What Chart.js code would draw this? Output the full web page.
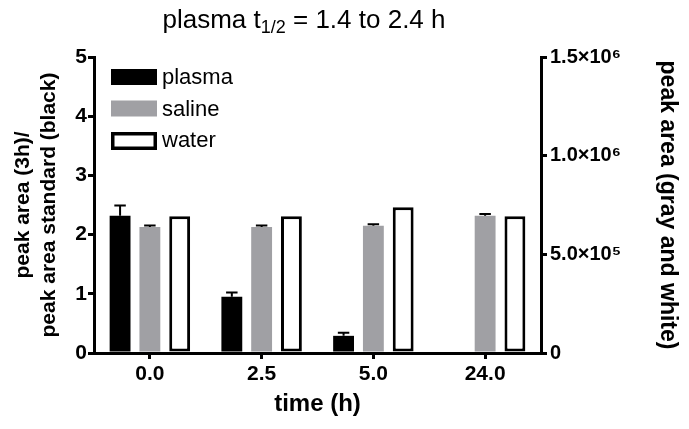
<!DOCTYPE html>
<html>
<head>
<meta charset="utf-8">
<script src="https://cdn.jsdelivr.net/npm/chart.js@4"></script>
<style>
  html, body { margin: 0; padding: 0; background: #fff; }
  #wrap { position: relative; width: 689px; height: 429px; }
  #title {
    position: absolute; left: 140px; width: 328px; top: 4px; line-height: 29px;
    text-align: center; font: 26px "Liberation Sans", Arial, sans-serif; color: #000;
  }
  #title sub { font-size: 18px; vertical-align: -5px; line-height: 0; }
</style>
</head>
<body>
<div id="wrap">
  <div id="title">plasma t<sub>1/2</sub> = 1.4 to 2.4 h</div>
  <canvas id="chart" width="689" height="429"></canvas>
</div>
<script>
// time points (h)
const categories  = ["0.0", "2.5", "5.0", "24.0"];

// plasma: ratio to standard (left axis)
const plasmaVals  = [2.32, 0.95, 0.29, null];
const plasmaErr   = [0.17, 0.07, 0.05, 0];

// saline / water: raw peak area (right axis)
const salineVals  = [639000, 639000, 645000, 696000];
const salineErr   = [7000, 7000, 7000, 9000];
const waterVals   = [693000, 693000, 738000, 693000];
const waterErr    = [0, 0, 0, 0];

const leftTicks   = [0, 1, 2, 3, 4, 5];
const rightTicks  = [0, 500000, 1000000, 1500000];

const FONT = "'Liberation Sans', Arial, sans-serif";
const GRAY = "#a0a0a4";
const SUP  = { "5": "\u2075", "6": "\u2076" };

function sciLabel(v) {
  if (v === 0) return "0";
  const exp = Math.floor(Math.log10(v));
  const mant = (v / Math.pow(10, exp)).toFixed(1);
  return mant + "\u00d710" + SUP[String(exp)];
}

// one-sided (upward) error bars, drawn through the bar elements and scales
const errorBars = {
  id: "errorBars",
  afterDatasetsDraw(chart) {
    const ctx = chart.ctx;
    chart.data.datasets.forEach((ds, di) => {
      const meta = chart.getDatasetMeta(di);
      const scale = chart.scales[ds.yAxisID];
      meta.data.forEach((bar, i) => {
        const v = ds.data[i], e = ds.err[i];
        if (v == null || !e) return;
        const yTop = scale.getPixelForValue(v + e);
        const cap = bar.width * 0.55;
        ctx.save();
        ctx.strokeStyle = "#000";
        ctx.lineWidth = 2;
        ctx.beginPath();
        ctx.moveTo(bar.x, bar.y);
        ctx.lineTo(bar.x, yTop);
        ctx.moveTo(bar.x - cap / 2, yTop);
        ctx.lineTo(bar.x + cap / 2, yTop);
        ctx.stroke();
        ctx.restore();
      });
    });
  }
};

// legend placed inside the plot, top-left
const insideLegend = {
  id: "insideLegend",
  afterDraw(chart) {
    const ctx = chart.ctx;
    const x0 = 111, y0 = 69, rowH = 31.5, bw = 46, bh = 16;
    ctx.save();
    chart.data.datasets.forEach((ds, i) => {
      const y = y0 + i * rowH;
      ctx.fillStyle = ds.backgroundColor;
      ctx.fillRect(x0, y, bw, bh);
      if (ds.borderWidth) {
        ctx.strokeStyle = "#000";
        ctx.lineWidth = 3.5;
        ctx.strokeRect(x0 + 1.75, y + 1.75, bw - 3.5, bh - 1.5);
      }
      ctx.fillStyle = "#000";
      ctx.font = "22px " + FONT;
      ctx.textBaseline = "middle";
      ctx.fillText(ds.label, x0 + bw + 5, y + bh / 2 + 1);
    });
    ctx.restore();
  }
};

const axisLine = { display: true, width: 3, color: "#000" };
const tickGrid = { display: true, drawOnChartArea: false, drawTicks: true,
                   tickLength: 6, lineWidth: 3, color: "#000" };

new Chart(document.getElementById("chart"), {
  type: "bar",
  data: {
    labels: categories,
    datasets: [
      { label: "plasma", data: plasmaVals, err: plasmaErr, yAxisID: "y",
        backgroundColor: "#000", borderWidth: 0 },
      { label: "saline", data: salineVals, err: salineErr, yAxisID: "y2",
        backgroundColor: GRAY, borderWidth: 0 },
      { label: "water", data: waterVals, err: waterErr, yAxisID: "y2",
        backgroundColor: "#fff", borderColor: "#000", borderWidth: 3,
        borderSkipped: false },
    ],
  },
  options: {
    responsive: false,
    animation: false,
    events: [],
    layout: { padding: { top: 57, left: 0, right: 0, bottom: 0 } },
    categoryPercentage: 0.8,
    barPercentage: 0.7,
    plugins: { legend: { display: false }, tooltip: { enabled: false } },
    scales: {
      x: {
        grid: Object.assign({}, tickGrid, { offset: false }),
        border: axisLine,
        ticks: { color: "#000", font: { family: FONT, size: 21, weight: "bold" }, padding: 3 },
        title: { display: true, text: "time (h)", color: "#000",
                 font: { family: FONT, size: 24, weight: "bold" }, padding: { top: 0, bottom: 10 } },
        afterFit(s) { s.height = 76; },
      },
      y: {
        position: "left",
        min: 0, max: 5,
        afterBuildTicks(s) { s.ticks = leftTicks.map(v => ({ value: v })); },
        grid: tickGrid,
        border: axisLine,
        ticks: { color: "#000", font: { family: FONT, size: 21, weight: "bold" }, padding: 1 },
        title: { display: true, text: ["peak area (3h)/", "peak area standard (black)"],
                 color: "#000", font: { family: FONT, size: 21, weight: "bold", lineHeight: 1.25 },
                 padding: { top: 10, bottom: 0 } },
        afterFit(s) { s.width = 94; },
      },
      y2: {
        position: "right",
        min: 0, max: 1500000,
        afterBuildTicks(s) { s.ticks = rightTicks.map(v => ({ value: v })); },
        grid: tickGrid,
        border: axisLine,
        ticks: { color: "#000", font: { family: FONT, size: 20, weight: "bold" }, padding: 3,
                 callback: v => sciLabel(v) },
        title: { display: true, text: "peak area (gray and white)", color: "#000",
                 font: { family: FONT, size: 23, weight: "bold" }, padding: { top: 8, bottom: 0 } },
        afterFit(s) { s.width = 148; },
      },
    },
  },
  plugins: [errorBars, insideLegend],
});
</script>
</body>
</html>
